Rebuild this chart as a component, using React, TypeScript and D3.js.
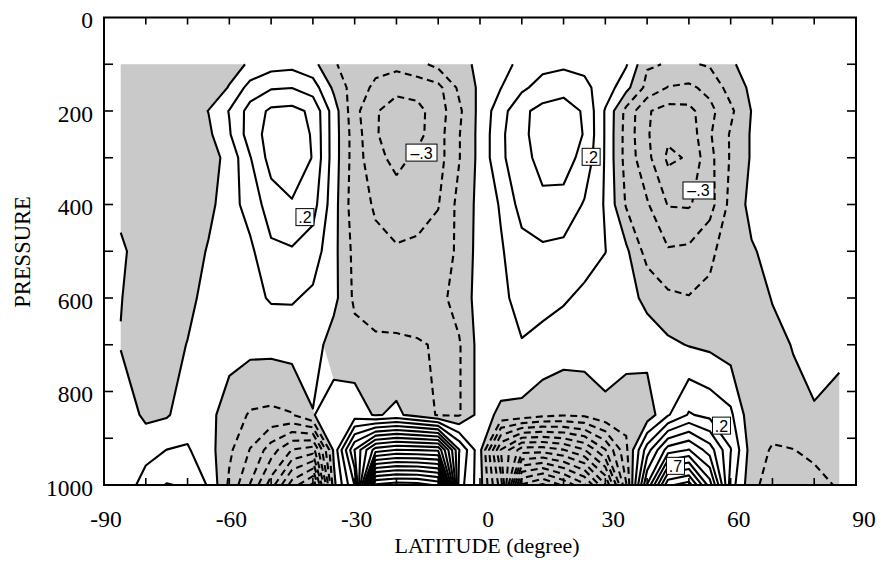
import React from 'react';
import * as d3 from 'd3';

// Grid columns (latitude, degrees) and rows (pressure, hPa)
const LATITUDES = [-86, -80, -75, -70, -65, -60, -55, -50, -45, -40, -35, -30, -25, -20, -15, -10, -5, 0,
  5, 10, 15, 20, 25, 30, 35, 40, 45, 50, 55, 60, 65, 70, 75, 80, 86];
const PRESSURES = [100, 150, 200, 250, 300, 400, 500, 600, 700, 850, 925, 1000];

// Field values along each pressure level, west to east
const P100 = [-0.03, -0.05, -0.06, -0.07, -0.06, -0.03, 0.01, 0.06, 0.07, 0.03, -0.09, -0.15, -0.17, -0.17, -0.13, -0.07, -0.03, 0.02,
  0.06, 0.13, 0.17, 0.18, 0.18, 0.16, 0.11, -0.09, -0.105, -0.11, -0.09, -0.01, 0.03, 0.04, 0.04, 0.03, 0.03];
const P150 = [-0.03, -0.05, -0.06, -0.08, -0.05, 0.005, 0.14, 0.19, 0.198, 0.15, -0.02, -0.15, -0.22, -0.27, -0.26, -0.23, -0.08, 0.02,
  0.098, 0.18, 0.24, 0.27, 0.22, 0.16, 0.03, -0.13, -0.205, -0.22, -0.17, -0.06, 0.02, 0.04, 0.04, 0.03, 0.03];
const P200 = [-0.03, -0.05, -0.06, -0.05, 0.002, 0.105, 0.24, 0.32, 0.33, 0.28, 0.05, -0.17, -0.29, -0.35, -0.33, -0.25, -0.12, 0.03,
  0.16, 0.28, 0.33, 0.34, 0.29, 0.09, -0.13, -0.29, -0.34, -0.33, -0.23, -0.12, 0.003, 0.04, 0.04, 0.03, 0.03];
const P250 = [-0.03, -0.05, -0.06, -0.05, -0.02, 0.09, 0.25, 0.34, 0.36, 0.29, 0.05, -0.15, -0.29, -0.36, -0.33, -0.24, -0.105, 0.03,
  0.18, 0.28, 0.34, 0.35, 0.295, 0.09, -0.14, -0.29, -0.38, -0.36, -0.21, -0.09, 0.01, 0.04, 0.04, 0.03, 0.03];
const P300 = [-0.03, -0.05, -0.06, -0.06, -0.04, 0.03, 0.195, 0.34, 0.37, 0.295, 0.05, -0.15, -0.27, -0.33, -0.28, -0.24, -0.105, 0.03,
  0.18, 0.27, 0.33, 0.34, 0.27, 0.09, -0.14, -0.27, -0.42, -0.39, -0.23, -0.09, 0.01, 0.04, 0.04, 0.03, 0.03];
const P400 = [-0.03, -0.05, -0.06, -0.06, -0.03, 0.06, 0.14, 0.25, 0.29, 0.24, 0.04, -0.16, -0.21, -0.25, -0.24, -0.205, -0.07, 0.03,
  0.11, 0.24, 0.28, 0.27, 0.19, 0.09, -0.11, -0.19, -0.305, -0.31, -0.24, -0.07, 0.03, 0.04, 0.04, 0.03, 0.03];
const P500 = [0.02, -0.06, -0.08, -0.06, 0.01, 0.05, 0.08, 0.18, 0.19, 0.15, 0.03, -0.13, -0.18, -0.19, -0.18, -0.16, -0.08, 0.04,
  0.09, 0.16, 0.18, 0.17, 0.14, 0.102, 0.02, -0.14, -0.19, -0.18, -0.12, -0.05, -0.01, 0.03, 0.04, 0.03, 0.03];
const P600 = [0.005, -0.07, -0.08, -0.04, 0.05, 0.06, 0.07, 0.11, 0.11, 0.08, 0.03, -0.12, -0.15, -0.16, -0.16, -0.13, -0.06, 0.04,
  0.08, 0.13, 0.13, 0.11, 0.08, 0.05, 0.03, -0.02, -0.08, -0.095, -0.08, -0.07, -0.05, 0.005, 0.03, 0.03, 0.03];
const P700 = [-0.005, -0.06, -0.06, 0.005, 0.05, 0.04, 0.03, 0.03, 0.04, 0.05, -0.05, -0.06, -0.08, -0.08, -0.09, -0.11, -0.11, 0.04,
  0.08, 0.095, 0.07, 0.05, 0.05, 0.04, 0.05, 0.04, 0.02, -0.005, -0.02, -0.05, -0.06, -0.03, 0.005, 0.02, 0.02];
const P850 = [0.06, -0.02, -0.01, 0.05, 0.03, -0.05, -0.11, -0.12, -0.105, -0.005, 0.05, 0.05, -0.01, 0.02, -0.04, -0.11, -0.11, 0.04,
  -0.02, -0.03, -0.07, -0.09, -0.08, -0.02, -0.07, -0.06, 0.09, 0.21, 0.17, 0.12, -0.07, -0.05, -0.03, -0.005, -0.03];
const P925 = [0.04, 0.06, 0.101, 0.11, 0.04, -0.08, -0.205, -0.35, -0.505, -0.55, 0.02, 0.505, 0.85, 0.905, 0.895, 0.88, 0.305, 0.03,
  -0.505, -0.75, -0.755, -0.705, -0.605, -0.405, -0.12, 0.25, 0.55, 0.605, 0.45, 0.205, -0.05, -0.11, -0.102, -0.08, -0.05];
const P1000 = [0.02, 0.15, 0.205, 0.19, 0.09, -0.12, -0.305, -0.55, -0.85, -1.02, -0.03, 0.305, 1.72, 1.76, 1.75, 1.68, 0.25, 0.04,
  -0.35, -1.31, -1.42, -1.28, -1.12, -0.81, -0.205, 0.505, 1.08, 1.15, 0.75, 0.15, -0.07, -0.15, -0.15, -0.13, -0.09];

const FIELD_ROWS = [P100, P150, P200, P250, P300, P400, P500, P600, P700, P850, P925, P1000];

const CONTOUR_STEP = 0.1;
const NEG_LEVELS = d3.range(1, 16).map((k) => -k * CONTOUR_STEP);
const POS_LEVELS = d3.range(0, 19).map((k) => k * CONTOUR_STEP);

const X_TICK_LABELS = [-90, -60, -30, 0, 30, 60, 90];
const Y_TICK_LABELS = [0, 200, 400, 600, 800, 1000];
const X_MINOR = d3.range(-80, 90, 10);
const Y_MINOR = d3.range(100, 1000, 100);

// Contour value labels (text, latitude, pressure)
const LINE_LABELS = [
  { text: '.2', lat: -41.9, p: 427 },
  { text: '\u2013.3', lat: -14.0, p: 289 },
  { text: '.2', lat: 26.6, p: 298 },
  { text: '\u2013.3', lat: 52.3, p: 370 },
  { text: '.2', lat: 57.8, p: 873 },
  { text: '.7', lat: 46.8, p: 959 },
];

const W = 883;
const H = 562;
const SERIF = "'Liberation Serif', 'Times New Roman', Times, serif";
const SANS = "'Liberation Sans', Arial, Helvetica, sans-serif";

export default function App() {
  const x = d3.scaleLinear().domain([-90, 90]).range([104, 856]);
  const y = d3.scaleLinear().domain([0, 1000]).range([17.5, 485]);

  const nx = LATITUDES.length;
  const ny = PRESSURES.length;
  const latOf = d3.scaleLinear().domain(d3.range(nx)).range(LATITUDES);
  const presOf = d3.scaleLinear().domain(d3.range(ny)).range(PRESSURES);
  const values = FIELD_ROWS.flat();
  const gen = d3.contours().size([nx, ny]);

  // grid coordinates from d3.contours -> screen, clamped to the data domain
  const project = (pt: number[]) => {
    const ix = Math.max(0, Math.min(nx - 1, pt[0] - 0.5));
    const iy = Math.max(0, Math.min(ny - 1, pt[1] - 0.5));
    return { ix, iy, X: x(latOf(ix)), Y: y(presOf(iy)) };
  };
  type P = ReturnType<typeof project>;
  const onBorder = (a: P, b: P) =>
    (a.ix === 0 && b.ix === 0) || (a.ix === nx - 1 && b.ix === nx - 1) ||
    (a.iy === 0 && b.iy === 0) || (a.iy === ny - 1 && b.iy === ny - 1);

  const areaPath = (geom: any) => {
    let d = '';
    for (const poly of geom.coordinates) {
      for (const ring of poly) {
        ring.forEach((pt: number[], k: number) => {
          const p = project(pt);
          d += `${k === 0 ? 'M' : 'L'}${p.X.toFixed(2)},${p.Y.toFixed(2)}`;
        });
        d += 'Z';
      }
    }
    return d;
  };

  // contour line without the stretches that run along the data border
  const linePath = (geom: any) => {
    let d = '';
    for (const poly of geom.coordinates) {
      for (const ring of poly) {
        const pts = ring.map(project);
        let pen = false;
        for (let k = 1; k < pts.length; k++) {
          const a = pts[k - 1];
          const b = pts[k];
          if (onBorder(a, b)) { pen = false; continue; }
          if (!pen) { d += `M${a.X.toFixed(2)},${a.Y.toFixed(2)}`; pen = true; }
          d += `L${b.X.toFixed(2)},${b.Y.toFixed(2)}`;
        }
      }
    }
    return d;
  };

  // negative region shading
  const negArea = areaPath(gen.contour(values.map((v) => -v), 1e-9));
  const negLines = NEG_LEVELS.map((t) => linePath(gen.contour(values, t)));
  const posLines = POS_LEVELS.map((t) => linePath(gen.contour(values, t)));

  const labelW = (s: string) => (s.length > 2 ? 31 : 18);

  return (
    <svg width={W} height={H} viewBox={`0 0 ${W} ${H}`}
      style={{ position: 'absolute', left: 0, top: 0, background: '#fff' }}>
      <rect x={0} y={0} width={W} height={H} fill="#fff" />
      <path d={negArea} fill="#c9c9c9" stroke="none" />
      <g fill="none" stroke="#000" strokeWidth={2.1} strokeLinejoin="round">
        {posLines.map((d, i) => <path key={`p${i}`} d={d} />)}
        {negLines.map((d, i) => <path key={`n${i}`} d={d} strokeDasharray="7 4.5" />)}
      </g>

      {/* frame */}
      <rect x={104} y={17.5} width={752} height={467.5} fill="none" stroke="#000" strokeWidth={2} />

      {/* ticks */}
      <g stroke="#000" strokeWidth={1.6}>
        {X_MINOR.map((v) => (
          <g key={`xt${v}`}>
            <line x1={x(v)} x2={x(v)} y1={485} y2={478} />
            <line x1={x(v)} x2={x(v)} y1={17.5} y2={24.5} />
          </g>
        ))}
        {Y_MINOR.map((v) => (
          <g key={`yt${v}`}>
            <line x1={104} x2={113} y1={y(v)} y2={y(v)} />
            <line x1={856} x2={847} y1={y(v)} y2={y(v)} />
          </g>
        ))}
      </g>

      {/* tick labels and axis titles */}
      <g fontFamily={SERIF} fill="#000">
        {X_TICK_LABELS.map((v) => (
          <text key={`xl${v}`} x={x(v) + (v < 0 ? 2 : 8)} y={527} textAnchor="middle" fontSize={23.5}>{String(v)}</text>
        ))}
        {Y_TICK_LABELS.map((v) => (
          <text key={`yl${v}`} x={93} y={y(v) + 10.5} textAnchor="end" fontSize={23.5}>{String(v)}</text>
        ))}
        <text x={487} y={553} textAnchor="middle" fontSize={22}>LATITUDE (degree)</text>
        <text transform="translate(30,252) rotate(-90)" textAnchor="middle" fontSize={22.5}>PRESSURE</text>
      </g>

      {/* contour labels */}
      <g fontFamily={SANS} fontSize={16}>
        {LINE_LABELS.map((l, i) => {
          const cx = x(l.lat);
          const cy = y(l.p);
          const w = labelW(l.text);
          return (
            <g key={`ll${i}`}>
              <rect x={cx - w / 2} y={cy - 8.5} width={w} height={17} fill="#fff" stroke="#000" strokeWidth={1} />
              <text x={cx} y={cy + 6} textAnchor="middle" fill="#000">{l.text}</text>
            </g>
          );
        })}
      </g>
    </svg>
  );
}
